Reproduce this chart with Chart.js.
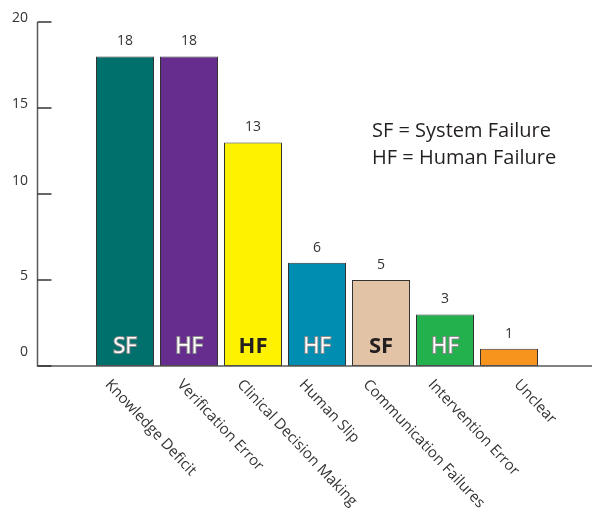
<!DOCTYPE html>
<html>
<head>
<meta charset="utf-8">
<script src="https://cdn.jsdelivr.net/npm/chart.js@4/dist/chart.umd.min.js"></script>
<style>
  html, body { margin: 0; padding: 0; background: #fff; }
  #wrap { width: 592px; height: 513px; position: relative; }
</style>
</head>
<body>
<div id="wrap"><canvas id="c" width="592" height="513"></canvas></div>
<script>
// ---- data ----
const categories = ["Knowledge Deficit", "Verification Error", "Clinical Decision Making", "Human Slip", "Communication Failures", "Intervention Error", "Unclear"];
const counts = [18, 18, 13, 6, 5, 3, 1];
const failureType = ["SF", "HF", "HF", "HF", "SF", "HF", ""];
const yTicks = [0, 5, 10, 15, 20];
const legendLines = ["SF = System Failure", "HF = Human Failure"];

// ---- styles ----
const barColors = ["#00706c", "#662d8f", "#fff200", "#008db2", "#e2c3a6", "#22b14c", "#f7941e"];
const typeStyle = ["outline", "outline", "dark", "outline", "dark", "outline", ""];
const yLabelLift = {0: 14, 5: 4, 10: 13, 15: 4, 20: 4};
const xLabelShift = [-12, -4, -8, -10, -10, -9, 13];
const FONT = '"Open Sans", "Noto Sans", sans-serif';

const overlay = {
  id: 'overlay',
  afterDatasetsDraw(chart) {
    const ctx = chart.ctx;
    const ys = chart.scales.y, xs = chart.scales.x;
    const axisX = 37.5;
    const y0 = ys.getPixelForValue(0);
    const yTop = ys.getPixelForValue(20);
    ctx.save();
    // axes
    ctx.strokeStyle = '#5a5a5a';
    ctx.lineWidth = 1.5;
    ctx.beginPath();
    ctx.moveTo(axisX, yTop); ctx.lineTo(axisX, y0);
    ctx.moveTo(axisX - 0.75, y0); ctx.lineTo(592, y0);
    ctx.stroke();
    // tick marks (inward)
    ctx.strokeStyle = '#333';
    ctx.lineWidth = 1.5;
    yTicks.forEach(v => {
      const py = ys.getPixelForValue(v);
      ctx.beginPath(); ctx.moveTo(axisX, py); ctx.lineTo(axisX + 14, py); ctx.stroke();
    });
    // y tick labels
    ctx.fillStyle = '#333';
    ctx.font = '14px ' + FONT;
    ctx.textAlign = 'right';
    ctx.textBaseline = 'middle';
    yTicks.forEach(v => {
      const py = ys.getPixelForValue(v);
      ctx.fillText(String(v), 28, py - yLabelLift[v]);
    });
    // value labels & type labels
    const meta = chart.getDatasetMeta(0);
    meta.data.forEach((bar, i) => {
      ctx.fillStyle = '#333';
      ctx.font = '14px ' + FONT;
      ctx.textAlign = 'center';
      ctx.textBaseline = 'middle';
      ctx.fillText(String(counts[i]), bar.x, bar.y - 15);
      const t = failureType[i];
      if (t) {
        ctx.textBaseline = 'alphabetic';
        if (typeStyle[i] === 'outline') {
          ctx.font = '22px ' + FONT;
          ctx.lineWidth = 2;
          ctx.strokeStyle = '#8a8a8a';
          ctx.strokeText(t, bar.x, y0 - 13);
          ctx.fillStyle = '#ffffff';
          ctx.fillText(t, bar.x, y0 - 13);
        } else {
          ctx.font = 'bold 22px ' + FONT;
          ctx.fillStyle = '#231f20';
          ctx.fillText(t, bar.x, y0 - 13);
        }
      }
    });
    // rotated category labels
    ctx.fillStyle = '#333';
    ctx.font = '15px ' + FONT;
    ctx.textAlign = 'left';
    ctx.textBaseline = 'top';
    categories.forEach((c, i) => {
      const px = xs.getPixelForValue(i) + xLabelShift[i];
      ctx.save();
      ctx.translate(px, y0 + 11);
      ctx.rotate(Math.PI / 4 + 0.03);
      ctx.fillText(c, 0, 0);
      ctx.restore();
    });
    // legend text
    ctx.fillStyle = '#231f20';
    ctx.font = '20px ' + FONT;
    ctx.textAlign = 'left';
    ctx.textBaseline = 'middle';
    legendLines.forEach((s, k) => ctx.fillText(s, 372, 131 + k * 27));
    ctx.restore();
  }
};

new Chart(document.getElementById('c'), {
  type: 'bar',
  data: {
    labels: categories,
    datasets: [{
      data: counts,
      backgroundColor: barColors,
      borderColor: '#333',
      borderWidth: 1,
      borderSkipped: false,
      barPercentage: 58 / 64,
      categoryPercentage: 1
    }]
  },
  options: {
    responsive: false,
    devicePixelRatio: 1,
    animation: false,
    layout: { padding: { left: 93, right: 51, top: 22, bottom: 147 } },
    plugins: { legend: { display: false }, tooltip: { enabled: false } },
    scales: {
      x: { display: false, offset: true },
      y: { display: false, min: 0, max: 20 }
    }
  },
  plugins: [overlay]
});
</script>
</body>
</html>
